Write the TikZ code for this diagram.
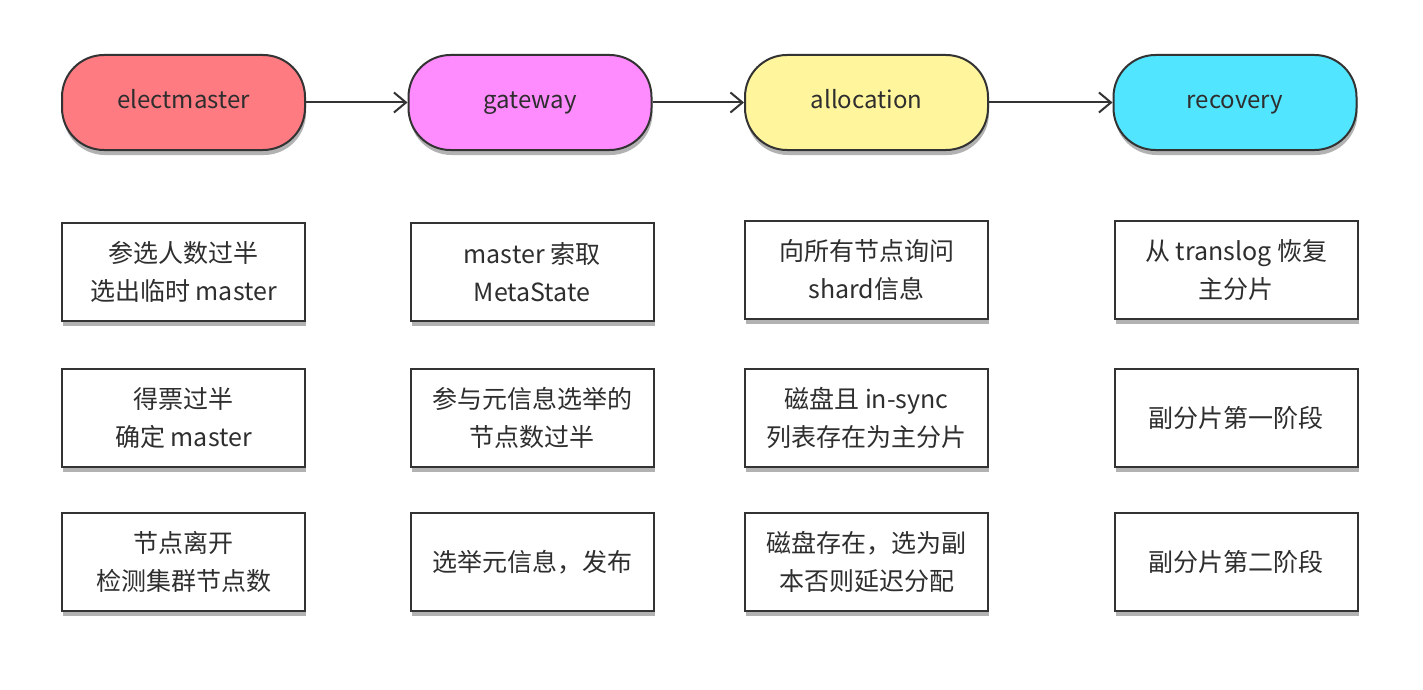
\documentclass[tikz,border=0pt]{standalone}
\usepackage{fontspec}
\setmainfont{Noto Sans CJK SC}
\usetikzlibrary{arrows.meta,shadows}
\definecolor{cred}{HTML}{FF7B82}
\definecolor{cmag}{HTML}{FF8CFF}
\definecolor{cyel}{HTML}{FFF59D}
\definecolor{ccya}{HTML}{52E5FF}
\definecolor{ink}{HTML}{333333}
\definecolor{txt}{HTML}{2E2E2E}
\begin{document}
\begin{tikzpicture}[x=1pt,y=-1pt,
  shad/.style={drop shadow={shadow xshift=1pt,shadow yshift=-5pt,opacity=0.5,fill=black!60}},
  pill/.style={rectangle,rounded corners=42pt,draw=ink,line width=2pt,minimum width=243pt,minimum height=95pt,shad,text=txt,text height=17pt,text depth=5pt,font=\fontsize{24}{30}\selectfont},
  infobox/.style={rectangle,draw=ink,line width=2pt,fill=white,minimum width=243pt,minimum height=98pt,shad,align=center,text=txt,font=\fontsize{25}{38}\selectfont},
  flow/.style={draw=ink,line width=2pt,-{Straight Barb[length=12pt,width=20pt,line width=2pt]}}]
\useasboundingbox[fill=white] (0,0) rectangle (1423,690);
\node[pill,fill=cred] (em) at (183.5,102.5) {electmaster};
\node[pill,fill=cmag] (gw) at (530,102.5) {gateway};
\node[pill,fill=cyel] (al) at (866.5,102.5) {allocation};
\node[pill,fill=ccya] (rc) at (1235,102.5) {recovery};
\draw[flow] (em) -- (gw);
\draw[flow] (gw) -- (al);
\draw[flow] (al) -- (rc);
\node[infobox] (e1) at (183.5,272) {参选人数过半\\选出临时 master};
\node[infobox] (e2) at (183.5,418) {得票过半\\确定 master};
\node[infobox] (e3) at (183.5,562) {节点离开\\检测集群节点数};
\node[infobox] (g1) at (532,272) {master 索取\\MetaState};
\node[infobox] (g2) at (532,418) {参与元信息选举的\\节点数过半};
\node[infobox] (g3) at (532,562) {选举元信息，发布};
\node[infobox] (a1) at (866.5,270) {向所有节点询问\\shard信息};
\node[infobox] (a2) at (866.5,418) {磁盘且 in-sync\\列表存在为主分片};
\node[infobox] (a3) at (866.5,562) {磁盘存在，选为副\\本否则延迟分配};
\node[infobox] (r1) at (1236,270) {从 translog 恢复\\主分片};
\node[infobox] (r2) at (1236,418) {副分片第一阶段};
\node[infobox] (r3) at (1236,562) {副分片第二阶段};
\end{tikzpicture}
\end{document}
